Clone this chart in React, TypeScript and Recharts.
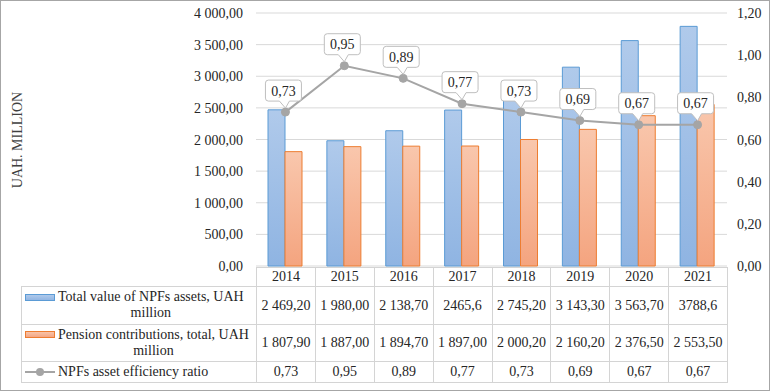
import React from "react";
import {
  ComposedChart,
  Bar,
  Line,
  XAxis,
  YAxis,
  CartesianGrid,
  LabelList,
} from "recharts";

const years = ["2014", "2015", "2016", "2017", "2018", "2019", "2020", "2021"];
const assets = [2469.2, 1980.0, 2138.7, 2465.6, 2745.2, 3143.3, 3563.7, 3788.6];
const contributions = [1807.9, 1887.0, 1894.7, 1897.0, 2000.2, 2160.2, 2376.5, 2553.5];
const ratio = [0.73, 0.95, 0.89, 0.77, 0.73, 0.69, 0.67, 0.67];

// table text as printed in the source (mixed number formats kept)
const assetsText = ["2 469,20", "1 980,00", "2 138,70", "2465,6", "2 745,20", "3 143,30", "3 563,70", "3788,6"];
const contribText = ["1 807,90", "1 887,00", "1 894,70", "1 897,00", "2 000,20", "2 160,20", "2 376,50", "2 553,50"];
const ratioText = ["0,73", "0,95", "0,89", "0,77", "0,73", "0,69", "0,67", "0,67"];

const seriesNames = [
  "Total value of NPFs assets, UAH\nmillion",
  "Pension contributions, total, UAH\nmillion",
  "NPFs asset efficiency ratio",
];

const leftTicks = [0, 500, 1000, 1500, 2000, 2500, 3000, 3500, 4000];
const rightTicks = [0, 0.2, 0.4, 0.6, 0.8, 1.0, 1.2];

const FONT = '"Liberation Serif", "Times New Roman", serif';
const TEXT = "#262626";
const GRID = "#d9d9d9";
const TABLE_LINE = "#d4d4d4";

const data = years.map((y, i) => ({
  year: y,
  assets: assets[i],
  contributions: contributions[i],
  ratio: ratio[i],
}));

const fmtThousands = (v: number) => {
  const [i, d] = v.toFixed(2).split(".");
  return i.replace(/\B(?=(\d{3})+(?!\d))/g, " ") + "," + d;
};
const fmtRatio = (v: number) => v.toFixed(2).replace(".", ",");

const svgText: React.CSSProperties = { fontFamily: FONT, fontSize: 14, fill: TEXT };

function LeftTick(props: any) {
  const { x, y, payload } = props;
  return (
    <text x={x} y={y} dy={5} textAnchor="end" style={svgText}>
      {fmtThousands(Number(payload.value))}
    </text>
  );
}

function RightTick(props: any) {
  const { x, y, payload } = props;
  return (
    <text x={x} y={y} dy={5} textAnchor="start" style={svgText}>
      {fmtRatio(Number(payload.value))}
    </text>
  );
}

function Callout(props: any) {
  const x = Number(props.x ?? props.viewBox?.x);
  const y = Number(props.y ?? props.viewBox?.y);
  if (!isFinite(x) || !isFinite(y)) return null;
  const w = 36;
  const h = 21;
  const r = 3;
  const cx = x - 2;
  const L = cx - w / 2;
  const R = cx + w / 2;
  const B = y - 11;
  const T = B - h;
  const d = `M${L + r},${T} H${R - r} Q${R},${T} ${R},${T + r} V${B - r} Q${R},${B} ${R - r},${B} H${x + 4} L${x},${y - 4} L${x - 6},${B} H${L + r} Q${L},${B} ${L},${B - r} V${T + r} Q${L},${T} ${L + r},${T} Z`;
  return (
    <g>
      <path d={d} fill="#ffffff" stroke="#bfbfbf" strokeWidth={1} />
      <text x={cx} y={T + h / 2 + 5} textAnchor="middle" style={svgText}>
        {fmtRatio(Number(props.value))}
      </text>
    </g>
  );
}

// table geometry
const colLeft = 256;
const colRight = 727;
const firstColLeft = 21;
const rowEdges = [267, 286, 324, 361, 382];
const colW = (colRight - colLeft) / years.length;

const cellStyle = (left: number, top: number, width: number, height: number): React.CSSProperties => ({
  position: "absolute",
  left,
  top,
  width: width + 1,
  height: height + 1,
  boxSizing: "border-box",
  border: `1px solid ${TABLE_LINE}`,
  display: "flex",
  alignItems: "center",
  justifyContent: "center",
  fontSize: 14,
  color: TEXT,
  whiteSpace: "nowrap",
});

function LegendKey({ kind, top }: { kind: number; top: number }) {
  if (kind === 0 || kind === 1) {
    const blue = kind === 0;
    return (
      <div
        style={{
          position: "absolute",
          left: 25,
          top,
          width: 30,
          height: 7,
          boxSizing: "border-box",
          border: `1px solid ${blue ? "#5b9bd5" : "#ed7d31"}`,
          background: blue
            ? "linear-gradient(#afc9eb, #92b6e3)"
            : "linear-gradient(#f8c3a8, #f4a784)",
        }}
      />
    );
  }
  return (
    <div style={{ position: "absolute", left: 25, top, width: 30, height: 8 }}>
      <div style={{ position: "absolute", left: 0, top: 3, width: 30, height: 2, background: "#a5a5a5" }} />
      <div
        style={{
          position: "absolute",
          left: 11,
          top: 0,
          width: 8,
          height: 8,
          borderRadius: 4,
          background: "#a5a5a5",
        }}
      />
    </div>
  );
}

function DataTable() {
  const rows = [assetsText, contribText, ratioText];
  return (
    <>
      {years.map((y, i) => (
        <div key={y} style={cellStyle(colLeft + i * colW, rowEdges[0], colW, rowEdges[1] - rowEdges[0])}>
          {y}
        </div>
      ))}
      {rows.map((vals, r) => {
        const top = rowEdges[r + 1];
        const h = rowEdges[r + 2] - top;
        const lines = seriesNames[r].split("\n").length;
        const textTop = top + (h - lines * 16) / 2;
        return (
          <React.Fragment key={r}>
            <div style={cellStyle(firstColLeft, top, colLeft - firstColLeft, h)} />
            <LegendKey kind={r} top={r === 2 ? textTop + 4 : textTop + 4.5} />
            <div
              style={{
                position: "absolute",
                left: 58,
                top: textTop,
                display: "inline-block",
                textAlign: "center",
                whiteSpace: "pre",
                lineHeight: "16px",
                fontSize: 14,
                color: TEXT,
              }}
            >
              {seriesNames[r]}
            </div>
            {vals.map((v, i) => (
              <div key={i} style={cellStyle(colLeft + i * colW, top, colW, h)}>
                {v}
              </div>
            ))}
          </React.Fragment>
        );
      })}
    </>
  );
}

export default function App() {
  return (
    <div
      style={{
        position: "absolute",
        left: 0,
        top: 0,
        width: 770,
        height: 391,
        background: "#ffffff",
        fontFamily: FONT,
        overflow: "hidden",
      }}
    >
      <div
        style={{
          position: "absolute",
          left: 0,
          top: 0,
          width: 770,
          height: 391,
          boxSizing: "border-box",
          border: "1px solid #a6a6a6",
        }}
      />
      <div
        style={{
          position: "absolute",
          left: 18,
          top: 139.5,
          transform: "translate(-50%, -50%) rotate(-90deg)",
          fontSize: 14,
          color: "#404040",
          whiteSpace: "nowrap",
        }}
      >
        UAH. MILLION
      </div>
      <div style={{ position: "absolute", left: 0, top: 0 }}>
        <ComposedChart
          width={770}
          height={391}
          data={data}
          margin={{ top: 13, right: 0, bottom: 125, left: 0 }}
          barGap={0}
        >
          <defs>
            <linearGradient id="blueFill" x1="0" y1="0" x2="0" y2="1">
              <stop offset="0%" stopColor="#b0caeb" />
              <stop offset="100%" stopColor="#8fb4e2" />
            </linearGradient>
            <linearGradient id="orangeFill" x1="0" y1="0" x2="0" y2="1">
              <stop offset="0%" stopColor="#f9c7ad" />
              <stop offset="100%" stopColor="#f4a47f" />
            </linearGradient>
          </defs>
          <CartesianGrid yAxisId="left" vertical={false} stroke={GRID} />
          <XAxis dataKey="year" hide />
          <YAxis
            yAxisId="left"
            width={256}
            domain={[0, 4000]}
            ticks={leftTicks}
            axisLine={false}
            tickLine={false}
            tickSize={0}
            tickMargin={13}
            interval={0}
            tick={<LeftTick />}
          />
          <YAxis
            yAxisId="right"
            orientation="right"
            width={43}
            domain={[0, 1.2]}
            ticks={rightTicks}
            axisLine={false}
            tickLine={false}
            tickSize={0}
            tickMargin={10}
            interval={0}
            tick={<RightTick />}
          />
          <Bar
            yAxisId="left"
            dataKey="assets"
            barSize={17}
            fill="url(#blueFill)"
            stroke="#5b9bd5"
            strokeWidth={1}
            isAnimationActive={false}
          />
          <Bar
            yAxisId="left"
            dataKey="contributions"
            barSize={17}
            fill="url(#orangeFill)"
            stroke="#ed7d31"
            strokeWidth={1}
            isAnimationActive={false}
          />
          <Line
            yAxisId="right"
            dataKey="ratio"
            type="linear"
            stroke="#a5a5a5"
            strokeWidth={2}
            dot={{ r: 4, fill: "#a5a5a5", stroke: "#a5a5a5", strokeWidth: 1 }}
            isAnimationActive={false}
          >
            <LabelList dataKey="ratio" content={Callout} />
          </Line>
        </ComposedChart>
      </div>
      <DataTable />
    </div>
  );
}
